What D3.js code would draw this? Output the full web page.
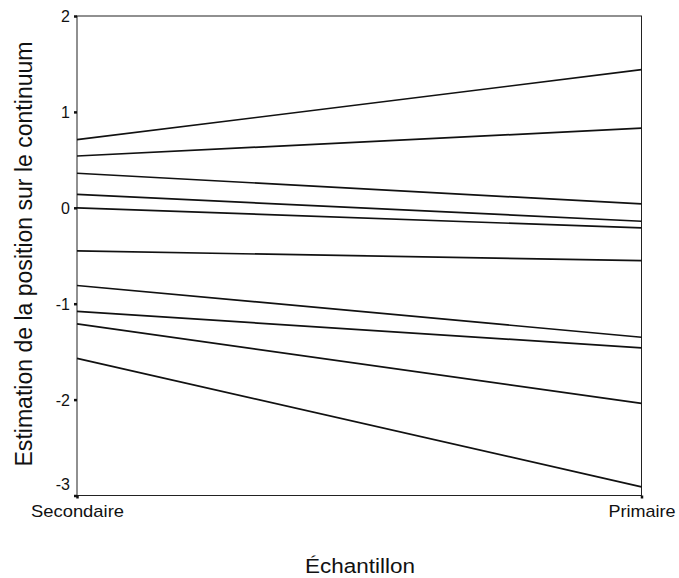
<!DOCTYPE html>
<html>
<head>
<meta charset="utf-8">
<script src="https://cdn.jsdelivr.net/npm/d3@7"></script>
<style>
  body { margin: 0; background: #fff; }
  svg { display: block; font-family: Arial, "Liberation Sans", sans-serif; }
</style>
</head>
<body>
<svg id="chart" width="679" height="578"></svg>
<script>
// Sample groups on the x axis
const groups = ["Secondaire", "Primaire"];
// Estimated position per item in each sample
const secondaire = [0.71, 0.54, 0.36, 0.14, 0.00, -0.45, -0.81, -1.08, -1.21, -1.57];
const primaire   = [1.44, 0.83, 0.04, -0.14, -0.21, -0.55, -1.35, -1.46, -2.04, -2.91];
const yTicks = [2, 1, 0, -1, -2, -3];

const svg = d3.select("#chart");
const plotLeft = 77, plotRight = 641.5, plotTop = 16, plotBottom = 495.5;
const font = "Arial, 'Liberation Sans', sans-serif";

const x = d3.scalePoint().domain(groups).range([plotLeft, plotRight]);
const y = d3.scaleLinear().domain([-3, 2]).range([plotBottom, plotTop]);

// frame
svg.append("rect")
  .attr("x", plotLeft).attr("y", plotTop)
  .attr("width", plotRight - plotLeft).attr("height", plotBottom - plotTop)
  .attr("fill", "none").attr("stroke", "#222").attr("stroke-width", 1);

// item lines
const items = secondaire.map((v, i) => [
  { g: groups[0], v: v },
  { g: groups[1], v: primaire[i] }
]);
const line = d3.line().x(d => x(d.g)).y(d => y(d.v));
svg.append("g").selectAll("path").data(items).join("path")
  .attr("d", line)
  .attr("fill", "none")
  .attr("stroke", "#111")
  .attr("stroke-width", 1.7);

// y axis
const yAxis = d3.axisLeft(y).tickValues(yTicks).tickFormat(d => String(d))
  .tickSize(3).tickPadding(4);
const gy = svg.append("g").attr("transform", `translate(${plotLeft},0)`).call(yAxis);
gy.select(".domain").remove();
gy.selectAll(".tick line").attr("stroke", "#111").attr("stroke-width", 2.5);
gy.selectAll(".tick text")
  .attr("font-size", 16).attr("fill", "#111").attr("font-family", font)
  .attr("dy", d => d === -3 ? "-0.35em" : "0.35em");

// x axis
const xAxis = d3.axisBottom(x).tickSize(3).tickPadding(6);
const gx = svg.append("g").attr("transform", `translate(0,${plotBottom})`).call(xAxis);
gx.select(".domain").remove();
gx.selectAll(".tick line").attr("stroke", "#111").attr("stroke-width", 2.5);
gx.selectAll(".tick text")
  .attr("font-size", 17).attr("fill", "#111").attr("font-family", font)
  .attr("textLength", d => d === "Secondaire" ? 93 : 67)
  .attr("lengthAdjust", "spacingAndGlyphs");

// axis titles
svg.append("text")
  .attr("x", 360).attr("y", 573)
  .attr("text-anchor", "middle")
  .attr("font-size", 20).attr("fill", "#111")
  .attr("textLength", 110).attr("lengthAdjust", "spacingAndGlyphs")
  .text("Échantillon");

svg.append("text")
  .attr("transform", "translate(32,254) rotate(-90)")
  .attr("text-anchor", "middle")
  .attr("font-size", 23).attr("fill", "#111")
  .attr("textLength", 425).attr("lengthAdjust", "spacingAndGlyphs")
  .text("Estimation de la position sur le continuum");
</script>
</body>
</html>
